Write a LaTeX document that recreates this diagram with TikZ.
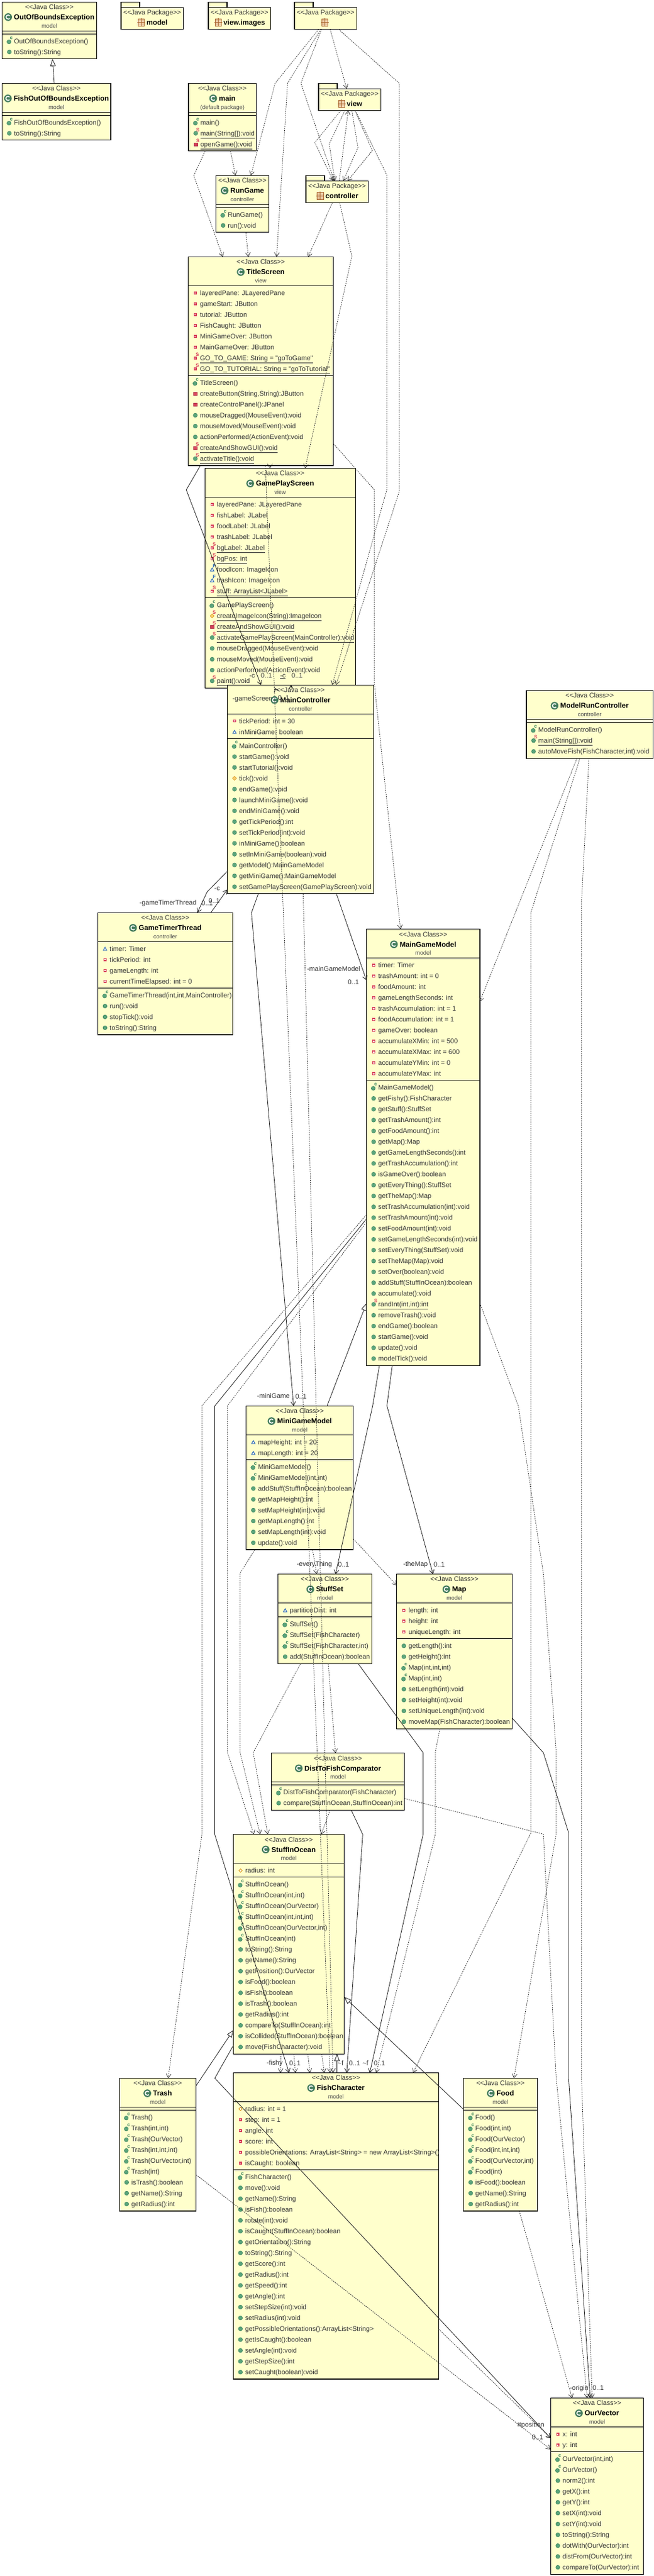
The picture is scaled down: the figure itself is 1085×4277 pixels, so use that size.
\documentclass[tikz,border=0pt]{standalone}
\usepackage{fontspec}
\newfontfamily\umlfont{Liberation Sans}
\usetikzlibrary{arrows.meta}
\definecolor{classfill}{HTML}{FFFFCC}
\definecolor{icongreen}{HTML}{5BA57C}
\definecolor{icondark}{HTML}{2F7D55}
\definecolor{iconred}{HTML}{D8405A}
\definecolor{iconblue}{HTML}{2B68B8}
\definecolor{iconorange}{HTML}{D9920F}
\definecolor{iconlight}{HTML}{F7CE72}
\definecolor{pkgbrown}{HTML}{A8642C}
\definecolor{pkgfill}{HTML}{EBCBA6}
\tikzset{
	classbox/.style={draw=black, fill=classfill, line width=1.2pt, inner sep=0pt, outer sep=0pt, anchor=north west},
	classline/.style={line width=1.1pt},
	classstereo/.style={inner sep=0pt, anchor=base, text=black!80, font=\umlfont\fontsize{11.1}{12}\selectfont},
	classtitle/.style={inner sep=0pt, anchor=base, text=black, font=\umlfont\fontsize{11.8}{13}\selectfont\bfseries},
	classpkg/.style={inner sep=0pt, anchor=base, text=black!70, font=\umlfont\fontsize{9.5}{11}\selectfont},
	rowtext/.style={inner sep=0pt, anchor=base west, text=black!80, font=\umlfont\fontsize{11.1}{12}\selectfont},
	linelabel/.style={inner sep=0pt, anchor=base, text=black!80, font=\umlfont\fontsize{11.1}{12}\selectfont},
	iconmark/.style={inner sep=0pt, font=\umlfont\fontsize{8}{8}\selectfont\bfseries},
	depline/.style={line width=0.7pt, black!85, dash pattern=on 2pt off 1.6pt, -{Straight Barb[length=6.5pt,width=8pt]}},
	assocline/.style={line width=0.8pt, black!90, -{Straight Barb[length=6.5pt,width=8pt]}},
	genline/.style={line width=0.8pt, black!90, -{Triangle[open,fill=white,length=12pt,width=9pt]}},
	% member icons
	pub/.pic={\filldraw[fill=icongreen, draw=icondark, line width=0.5pt] (0,0) circle (3.4);},
	ctor/.pic={\filldraw[fill=icongreen, draw=icondark, line width=0.5pt] (-0.6,1.2) circle (3.4);
		\node[iconmark, text=icondark] (-m) at (3.4,-5.4) {c};},
	spub/.pic={\filldraw[fill=icongreen, draw=icondark, line width=0.5pt] (0,0) circle (3.4);
		\node[iconmark, text=iconred] (-m) at (3.6,-5.8) {S};},
	pri/.pic={\draw[iconred, fill=white, line width=1.3pt] (-1.8,-1.6) rectangle (1.8,1.6);},
	spri/.pic={\draw[iconred, fill=white, line width=1.3pt] (-1.8,-1.6) rectangle (1.8,1.6);
		\node[iconmark, text=iconred] (-m) at (3.6,-5.6) {S};},
	prim/.pic={\filldraw[fill=iconred, draw=iconred!80!black, line width=0.4pt] (-3,-2.6) rectangle (3,2.6);},
	sprim/.pic={\filldraw[fill=iconred, draw=iconred!80!black, line width=0.4pt] (-3,-2.2) rectangle (3,3);
		\node[iconmark, text=iconred] (-m) at (3.6,-5.6) {S};},
	pkg/.pic={\draw[iconblue, fill=white, line width=1pt] (-2.8,2.4) -- (0,-2.6) -- (2.8,2.4) -- cycle;},
	fpkg/.pic={\draw[iconblue, fill=white, line width=1pt] (-2.8,2.4) -- (0,-2.6) -- (2.8,2.4) -- cycle;
		\node[iconmark, text=iconblue] (-m) at (3.6,-5.6) {F};},
	prota/.pic={\draw[iconorange, fill=white, line width=0.9pt] (-2.8,0) -- (0,-2.8) -- (2.8,0) -- (0,2.8) -- cycle;},
	prot/.pic={\filldraw[fill=iconlight, draw=iconorange, line width=0.5pt] (-3.4,0) -- (0,-3.4) -- (3.4,0) -- (0,3.4) -- cycle;},
	sprot/.pic={\filldraw[fill=iconlight, draw=iconorange, line width=0.5pt] (-3.4,0) -- (0,-3.4) -- (3.4,0) -- (0,3.4) -- cycle;
		\node[iconmark, text=iconred] (-m) at (3.6,-5.8) {S};},
	classicon/.pic={\fill[icongreen!75!black] (0,0) circle (6.4);
		\draw[white, line width=1.6pt] (2.6,-2.2) arc (-40:-320:3.4);},
	pkgicon/.pic={\filldraw[fill=pkgfill, draw=pkgbrown, line width=0.7pt] (-5.2,-6) rectangle (5.2,6);
		\draw[pkgbrown, line width=0.6pt] (-6.4,0) -- (6.4,0) (0,-7) -- (0,7);},
}
\def\ul#1{\underline{#1}}
\def\javaclass[#1](#2,#3:#4:#5)#6#7#8#9{
	\foreach \ic/\txt [count=\rw] in {#9} {\global\let\nmeth\rw}
	\pgfmathsetmacro\hh{48+5+18*#5+18*\nmeth+5.5}
	\pgfmathsetmacro\cx{#2+#4/2}
	\pgfmathsetmacro\sa{#3+48}
	\pgfmathsetmacro\sb{#3+48+5+18*#5}
	\node[classbox, minimum width=#4, minimum height=\hh] (#1) at (#2,#3) {};
	\node[classstereo] (#1-st) at (\cx,#3+12.3) {<<Java Class>>};
	\node[classtitle] (#1-nm) at (\cx+8,#3+29.3) {#6};
	\pic at ([xshift=-9.4,yshift=4.2]#1-nm.base west) {classicon};
	\node[classpkg] (#1-pk) at (\cx,#3+43) {#7};
	\draw[classline] (#1.west |- 0,\sa) -- (#1.east |- 0,\sa);
	\draw[classline] (#1.west |- 0,\sb) -- (#1.east |- 0,\sb);
	\ifnum#5>0
	\foreach \ic/\txt [count=\rw] in {#8} {
		\pgfmathsetmacro\ry{\sa+12+18*(\rw-1)}
		\pgfmathsetmacro\ix{#2+12}
		\edef\doicon{\noexpand\pic at (\ix,\ry) {\ic};}\doicon
		\node[rowtext] (#1-a\rw) at (#2+19.6,\ry+4) {\txt};
	}
	\fi
	\foreach \ic/\txt [count=\rw] in {#9} {
		\pgfmathsetmacro\ry{\sb+12+18*(\rw-1)}
		\pgfmathsetmacro\ix{#2+12}
		\edef\doicon{\noexpand\pic at (\ix,\ry) {\ic};}\doicon
		\node[rowtext] (#1-m\rw) at (#2+19.6,\ry+4) {\txt};
	}
}
\def\javapackage[#1](#2,#3)#4{
	\draw[classbox] (#2,#3) rectangle (#2+31,#3+9);
	\node[classbox, minimum width=103.5, minimum height=36] (#1) at (#2,#3+9) {};
	\node[classstereo] (#1-st) at (#2+51.7,#3+21.3) {<<Java Package>>};
	\node[classtitle] (#1-nm) at (#2+59.7,#3+38.3) {#4};
	\pic at ([xshift=-8.5,yshift=4.2]#1-nm.base west) {pkgicon};
}
\begin{document}
\begin{tikzpicture}[x=1pt,y=-1pt]
	%%%%% START %%%%%
	\useasboundingbox (0,0) rectangle (1085,4277);
	\fill[white] (0,0) rectangle (1085,4277);
	
	\javapackage[PkgModel](201,3.3){model}
	\javapackage[PkgImages](346,3.3){view.images}
	\javapackage[PkgRoot](489,3.3){}
	\javapackage[PkgView](529,138.3){view}
	\javapackage[PkgController](508,291.3){controller}
	
	\javaclass[OutOfBounds](3.5,3.3:157:0){OutOfBoundsException}{model}{}{
		ctor/OutOfBoundsException(), pub/toString():String}
	\javaclass[FishOutOfBounds](3.5,138.3:180.5:0){FishOutOfBoundsException}{model}{}{
		ctor/FishOutOfBoundsException(), pub/toString():String}
	\javaclass[Main](313,138.3:112.6:0){main}{(default package)}{}{
		ctor/main(), spub/\ul{main(String[]):void}, sprim/\ul{openGame():void}}
	\javaclass[RunGame](358.5,291.3:88:0){RunGame}{controller}{}{
		ctor/RunGame(), pub/run():void}
	
	\javaclass[TitleScreen](312.3,426.5:241.4:8){TitleScreen}{view}{
		pri/layeredPane: JLayeredPane, pri/gameStart: JButton, pri/tutorial: JButton,
		pri/FishCaught: JButton, pri/MiniGameOver: JButton, pri/MainGameOver: JButton,
		spri/\ul{GO\_TO\_GAME: String = "goToGame"}, spri/\ul{GO\_TO\_TUTORIAL: String = "goToTutorial"}}{
		ctor/TitleScreen(), prim/{createButton(String,String):JButton}, prim/createControlPanel():JPanel,
		pub/mouseDragged(MouseEvent):void, pub/mouseMoved(MouseEvent):void, pub/actionPerformed(ActionEvent):void,
		sprim/\ul{createAndShowGUI():void}, spub/\ul{activateTitle():void}}
	
	\javaclass[GamePlayScreen](340.3,777.6:250:9){GamePlayScreen}{view}{
		pri/layeredPane: JLayeredPane, pri/fishLabel: JLabel, pri/foodLabel: JLabel, pri/trashLabel: JLabel,
		spri/\ul{bgLabel: JLabel}, spri/\ul{bgPos: int}, fpkg/foodIcon: ImageIcon, fpkg/trashIcon: ImageIcon,
		spri/\ul{stuff: ArrayList<JLabel>}}{
		ctor/GamePlayScreen(), sprot/\ul{createImageIcon(String):ImageIcon}, sprim/\ul{createAndShowGUI():void},
		spub/\ul{activateGamePlayScreen(MainController):void}, pub/mouseDragged(MouseEvent):void,
		pub/mouseMoved(MouseEvent):void, pub/actionPerformed(ActionEvent):void, spub/\ul{paint():void}}
	
	\javaclass[MainController](377.4,1137.2:243.4:2){MainController}{controller}{
		pri/tickPeriod: int = 30, pkg/inMiniGame: boolean}{
		ctor/MainController(), pub/startGame():void, pub/startTutorial():void, prot/tick():void,
		pub/endGame():void, pub/launchMiniGame():void, pub/endMiniGame():void, pub/getTickPeriod():int,
		pub/setTickPeriod(int):void, pub/inMiniGame():boolean, pub/setInMiniGame(boolean):void,
		pub/getModel():MainGameModel, pub/getMiniGame():MainGameModel, pub/setGamePlayScreen(GamePlayScreen):void}
	
	\javaclass[GameTimerThread](162.4,1515.4:224.2:4){GameTimerThread}{controller}{
		pkg/timer: Timer, pri/tickPeriod: int, pri/gameLength: int, pri/currentTimeElapsed: int = 0}{
		ctor/{GameTimerThread(int,int,MainController)}, pub/run():void, pub/stopTick():void, pub/toString():String}
	
	\javaclass[ModelRunController](874,1146.6:210.3:0){ModelRunController}{controller}{}{
		ctor/ModelRunController(), spub/\ul{main(String[]):void}, pub/{autoMoveFish(FishCharacter,int):void}}
	
	\javaclass[MainGameModel](608.4,1542.7:188.5:11){MainGameModel}{model}{
		pri/timer: Timer, pri/trashAmount: int = 0, pri/foodAmount: int, pri/gameLengthSeconds: int,
		pri/trashAccumulation: int = 1, pri/foodAccumulation: int = 1, pri/gameOver: boolean,
		pri/accumulateXMin: int = 500, pri/accumulateXMax: int = 600, pri/accumulateYMin: int = 0,
		pri/accumulateYMax: int}{
		ctor/MainGameModel(), pub/getFishy():FishCharacter, pub/getStuff():StuffSet, pub/getTrashAmount():int,
		pub/getFoodAmount():int, pub/getMap():Map, pub/getGameLengthSeconds():int, pub/getTrashAccumulation():int,
		pub/isGameOver():boolean, pub/getEveryThing():StuffSet, pub/getTheMap():Map,
		pub/setTrashAccumulation(int):void, pub/setTrashAmount(int):void, pub/setFoodAmount(int):void,
		pub/setGameLengthSeconds(int):void, pub/setEveryThing(StuffSet):void, pub/setTheMap(Map):void,
		pub/setOver(boolean):void, pub/addStuff(StuffInOcean):boolean, pub/accumulate():void,
		spub/\ul{randInt(int,int):int}, pub/removeTrash():void, pub/endGame():boolean, pub/startGame():void,
		pub/update():void, pub/modelTick():void}
	
	\javaclass[MiniGameModel](408.7,2334.4:177.9:2){MiniGameModel}{model}{
		pkg/mapHeight: int = 20, pkg/mapLength: int = 20}{
		ctor/MiniGameModel(), ctor/{MiniGameModel(int,int)}, pub/addStuff(StuffInOcean):boolean,
		pub/getMapHeight():int, pub/setMapHeight(int):void, pub/getMapLength():int, pub/setMapLength(int):void,
		pub/update():void}
	
	\javaclass[StuffSet](461.5,2613.6:156.1:1){StuffSet}{model}{
		pkg/partitionDist: int}{
		ctor/StuffSet(), ctor/StuffSet(FishCharacter), ctor/{StuffSet(FishCharacter,int)}, pub/add(StuffInOcean):boolean}
	
	\javaclass[MapModel](658.6,2613.6:192:3){Map}{model}{
		pri/length: int, pri/height: int, pri/uniqueLength: int}{
		pub/getLength():int, pub/getHeight():int, ctor/{Map(int,int,int)}, ctor/{Map(int,int)}, pub/setLength(int):void,
		pub/setHeight(int):void, pub/setUniqueLength(int):void, pub/moveMap(FishCharacter):boolean}
	
	\javaclass[DistToFish](450.8,2910.8:220.8:0){DistToFishComparator}{model}{}{
		ctor/DistToFishComparator(FishCharacter), pub/{compare(StuffInOcean,StuffInOcean):int}}
	
	\javaclass[StuffInOcean](387.5,3045.7:184:1){StuffInOcean}{model}{
		prota/radius: int}{
		ctor/StuffInOcean(), ctor/{StuffInOcean(int,int)}, ctor/StuffInOcean(OurVector), ctor/{StuffInOcean(int,int,int)},
		ctor/{StuffInOcean(OurVector,int)}, ctor/StuffInOcean(int), pub/toString():String, pub/getName():String,
		pub/getPosition():OurVector, pub/isFood():boolean, pub/isFish():boolean, pub/isTrash():boolean, pub/getRadius():int,
		pub/compareTo(StuffInOcean):int, pub/isCollided(StuffInOcean):boolean, pub/move(FishCharacter):void}
	
	\javaclass[Trash](198.3,3450.4:127.3:0){Trash}{model}{}{
		ctor/Trash(), ctor/{Trash(int,int)}, ctor/Trash(OurVector), ctor/{Trash(int,int,int)}, ctor/{Trash(OurVector,int)},
		ctor/Trash(int), pub/isTrash():boolean, pub/getName():String, pub/getRadius():int}
	
	\javaclass[Food](769.6,3450.4:123:0){Food}{model}{}{
		ctor/Food(), ctor/{Food(int,int)}, ctor/Food(OurVector), ctor/{Food(int,int,int)}, ctor/{Food(OurVector,int)},
		ctor/Food(int), pub/isFood():boolean, pub/getName():String, pub/getRadius():int}
	
	\javaclass[FishCharacter](387.3,3441.5:341.2:6){FishCharacter}{model}{
		prota/radius: int = 1, pri/step: int = 1, pri/angle: int, pri/score: int,
		pri/possibleOrientations: ArrayList<String> = new ArrayList<String>(), pri/isCaught: boolean}{
		ctor/FishCharacter(), pub/move():void, pub/getName():String, pub/isFish():boolean, pub/rotate(int):void,
		pub/isCaught(StuffInOcean):boolean, pub/getOrientation():String, pub/toString():String, pub/getScore():int,
		pub/getRadius():int, pub/getSpeed():int, pub/getAngle():int, pub/setStepSize(int):void, pub/setRadius(int):void,
		pub/getPossibleOrientations():ArrayList<String>, pub/getIsCaught():boolean, pub/setAngle(int):void,
		pub/getStepSize():int, pub/setCaught(boolean):void}
	
	\javaclass[OurVector](914.3,3981.6:154.4:2){OurVector}{model}{
		pri/x: int, pri/y: int}{
		ctor/{OurVector(int,int)}, ctor/OurVector(), pub/norm2():int, pub/getX():int, pub/getY():int, pub/setX(int):void,
		pub/setY(int):void, pub/toString():String, pub/dotWith(OurVector):int, pub/distFrom(OurVector):int,
		pub/compareTo(OurVector):int}
	
	% packages
	\draw[depline] (529.4,0 |- PkgRoot.south) -- (456.8,138.3) -- (416.6,0 |- RunGame.north);
	\draw[depline] (533,0 |- PkgRoot.south) -- (477.5,138.3) -- (459.3,0 |- TitleScreen.north);
	\draw[depline] (534,0 |- PkgRoot.south) -- (499.6,138.3) -- (555,0 |- PkgController.north);
	\draw[depline] (548,0 |- PkgRoot.south) -- (575.8,0 |- PkgView.north);
	\draw[depline] (562,0 |- PkgRoot.south) -- (663,138.3) -- (663,816) -- (558,0 |- MainController.north);
	\draw[depline] (566,0 |- PkgView.south) -- (522.7,236.7) -- (553.3,0 |- PkgController.north);
	\draw[depline] (572.7,0 |- PkgView.south) -- (546.7,239) -- (556,0 |- PkgController.north);
	\draw[depline] (563.3,0 |- PkgController.north) -- (578.3,0 |- PkgView.south);
	\draw[depline] (584.3,0 |- PkgView.south) -- (594.3,245) -- (570,0 |- PkgController.north);
	\draw[depline] (589.3,0 |- PkgView.south) -- (618.3,250) -- (577.3,0 |- PkgController.north);
	\draw[depline] (590,0 |- PkgView.south) -- (642.3,290.7) -- (642.3,813) -- (551.7,0 |- MainController.north);
	\draw[depline] (552,0 |- PkgController.south) -- (511.7,0 |- TitleScreen.north);
	\draw[depline] (564,0 |- PkgController.south) -- (584.3,425.5) -- (506.7,0 |- GamePlayScreen.north);
	
	% view and controller
	\draw[genline] (90,0 |- FishOutOfBounds.north) -- (87.2,0 |- OutOfBounds.south);
	\draw[depline] (340.5,0 |- Main.south) -- (321.8,291.7) -- (370,0 |- TitleScreen.north);
	\draw[depline] (382.7,0 |- Main.south) -- (391,0 |- RunGame.north);
	\draw[depline] (408.3,0 |- RunGame.south) -- (412.3,0 |- TitleScreen.north);
	\draw[assocline] (332.7,0 |- TitleScreen.south) -- (309.3,813.3) -- (433.3,0 |- MainController.north);
	\draw[depline] (448.3,0 |- TitleScreen.south) -- (448.3,0 |- GamePlayScreen.north);
	\draw[depline] (TitleScreen.east |- 0,736.7) -- (621.7,813.3) -- (621.7,1137) -- (665,0 |- MainGameModel.north);
	\draw[depline] (440.7,0 |- TitleScreen.south) -- (548,0 |- FishCharacter.north);
	\draw[assocline] (458.2,1146) -- (456.6,0 |- GamePlayScreen.south);
	\draw[assocline] (483.3,0 |- GamePlayScreen.south) -- (483.3,0 |- MainController.north);
	
	\draw[assocline] (MainController.west |- 0,1446.7) -- (344,1480.7) -- (327.7,0 |- GameTimerThread.north);
	\draw[assocline] (350,0 |- GameTimerThread.north) -- (MainController.west |- 0,1477);
	\draw[assocline] (429,0 |- MainController.south) -- (417.6,1515.4) -- (487.5,0 |- MiniGameModel.north);
	\draw[assocline] (558.5,0 |- MainController.south) -- (MainGameModel.west |- 0,1627.4);
	\draw[depline] (503.4,0 |- MainController.south) -- (553,0 |- FishCharacter.north);
	\draw[depline] (958,0 |- ModelRunController.south) -- (MainGameModel.east |- 0,1662.7);
	\draw[depline] (963,0 |- ModelRunController.south) -- (881.7,1514.6) -- (881.7,3043) -- (685.9,0 |- FishCharacter.north);
	\draw[depline] (978,0 |- ModelRunController.south) -- (965.7,1496) -- (965.7,3451) -- (983.3,0 |- OurVector.north);
	
	% model
	\draw[depline] (MainGameModel.west |- 0,2017) -- (335.2,2334) -- (335.2,3045.7) -- (279.2,0 |- Trash.north);
	\draw[assocline] (MainGameModel.west |- 0,2024) -- (356.6,2334.4) -- (356.6,3045.7) -- (480,0 |- FishCharacter.north);
	\draw[depline] (MainGameModel.west |- 0,2029.5) -- (377.7,2334) -- (377.7,2910) -- (421.7,0 |- StuffInOcean.north);
	\draw[depline] (MainGameModel.east |- 0,2163.4) -- (860.7,2334.4) -- (902.3,2613) -- (923.3,2905) -- (923.3,3046.7) -- (853.3,0 |- Food.north);
	\draw[assocline] (630,0 |- MainGameModel.south) -- (618.8,2334) -- (557.2,0 |- StuffSet.north);
	\draw[assocline] (651.3,0 |- MainGameModel.south) -- (642.5,2334) -- (719,0 |- MapModel.north);
	
	\draw[genline] (543,0 |- MiniGameModel.north) -- (MainGameModel.west |- 0,2164);
	\draw[depline] (423.2,0 |- MiniGameModel.south) -- (398.7,2612) -- (398.7,2910) -- (432,0 |- StuffInOcean.north);
	\draw[depline] (519,0 |- MiniGameModel.south) -- (525.8,0 |- StuffSet.north);
	\draw[depline] (MiniGameModel.east |- 0,2555) -- (MapModel.west |- 0,2632);
	
	\draw[depline] (499,0 |- StuffSet.south) -- (420.5,2910) -- (444.7,0 |- StuffInOcean.north);
	\draw[depline] (545,0 |- StuffSet.south) -- (557,0 |- DistToFish.north);
	\draw[assocline] (594.7,0 |- StuffSet.south) -- (702.6,2910) -- (702.6,3045.7) -- (614,0 |- FishCharacter.north);
	\draw[depline] (730.5,0 |- MapModel.south) -- (722.9,2909) -- (722.9,3045.7) -- (624.6,0 |- FishCharacter.north);
	\draw[assocline] (MapModel.east |- 0,2852.7) -- (902.3,2910) -- (944.3,3043.3) -- (944.3,3451.7) -- (980,0 |- OurVector.north);
	
	\draw[assocline] (583.2,0 |- DistToFish.south) -- (602.3,3045.7) -- (575.8,0 |- FishCharacter.north);
	\draw[depline] (548,0 |- DistToFish.south) -- (533.5,0 |- StuffInOcean.north);
	\draw[depline] (DistToFish.east |- 0,2986) -- (902.3,3045.3) -- (923.3,3446.7) -- (975,0 |- OurVector.north);
	
	\draw[genline] (559.6,0 |- FishCharacter.north) -- (559.6,0 |- StuffInOcean.south);
	\draw[genline] (Trash.east |- 0,3463) -- (StuffInOcean.west |- 0,3370.5);
	\draw[genline] (Food.west |- 0,3502) -- (StuffInOcean.east |- 0,3315.6);
	\draw[assocline] (StuffInOcean.west |- 0,3396) -- (356.7,3450.4) -- (OurVector.west |- 0,4048);
	\draw[depline] (466.7,0 |- StuffInOcean.south) -- (465.8,0 |- FishCharacter.north);
	\draw[depline] (487.8,0 |- StuffInOcean.south) -- (490.7,0 |- FishCharacter.north);
	\draw[depline] (511.2,0 |- StuffInOcean.south) -- (514.6,0 |- FishCharacter.north);
	\draw[depline] (534.2,0 |- StuffInOcean.south) -- (538.5,0 |- FishCharacter.north);
	\draw[depline] (Trash.east |- 0,3610.7) -- (OurVector.west |- 0,4066.7);
	\draw[depline] (FishCharacter.east |- 0,3867) -- (OurVector.west |- 0,4048);
	\draw[depline] (862.3,0 |- Food.south) -- (950,0 |- OurVector.north);
	
	% role labels
	\node[linelabel] (lc1) at (418.8,1125) {-c};
	\node[linelabel] (lm1) at (442.5,1125) {0..1};
	\node[linelabel] (lc2) at (469.7,1125) {\ul{-c}};
	\node[linelabel] (lm2) at (493.4,1125) {0..1};
	\node[linelabel] (lscreen) at (419.5,1163.6) {-gameScreen};
	\node[linelabel] (lm3) at (471,1162) {0..1};
	\node[linelabel] (lc3) at (360.6,1478.7) {-c};
	\node[linelabel] (lm4) at (355.6,1499.8) {0..1};
	\node[linelabel] (lthread) at (279,1502.6) {-gameTimerThread};
	\node[linelabel] (lm5) at (344,1503) {0..1};
	\node[linelabel] (lmain) at (554,1612.4) {-mainGameModel};
	\node[linelabel] (lm6) at (586.8,1634) {0..1};
	\node[linelabel] (lmini) at (454,2321.4) {-miniGame};
	\node[linelabel] (lm7) at (499.8,2322) {0..1};
	\node[linelabel] (levery) at (522,2600.4) {-everyThing};
	\node[linelabel] (lm8) at (570.6,2601) {0..1};
	\node[linelabel] (lmap) at (690,2600.4) {-theMap};
	\node[linelabel] (lm9) at (729.4,2601) {0..1};
	\node[linelabel] (lfishy) at (456.2,3428) {-fishy};
	\node[linelabel] (lm10) at (489.7,3429) {0..1};
	\node[linelabel] (lf1) at (565.3,3429) {\textasciitilde f};
	\node[linelabel] (lm11) at (588.8,3429) {0..1};
	\node[linelabel] (lf2) at (607,3429) {\textasciitilde f};
	\node[linelabel] (lm12) at (630,3429) {0..1};
	\node[linelabel] (lpos) at (881.7,4029.5) {\#position};
	\node[linelabel] (lm13) at (892.7,4050) {0..1};
	\node[linelabel] (lorigin) at (961.7,3968.4) {-origin};
	\node[linelabel] (lm14) at (993.3,3968.4) {0..1};
	
	%%%%% END %%%%%
\end{tikzpicture}
\end{document}
